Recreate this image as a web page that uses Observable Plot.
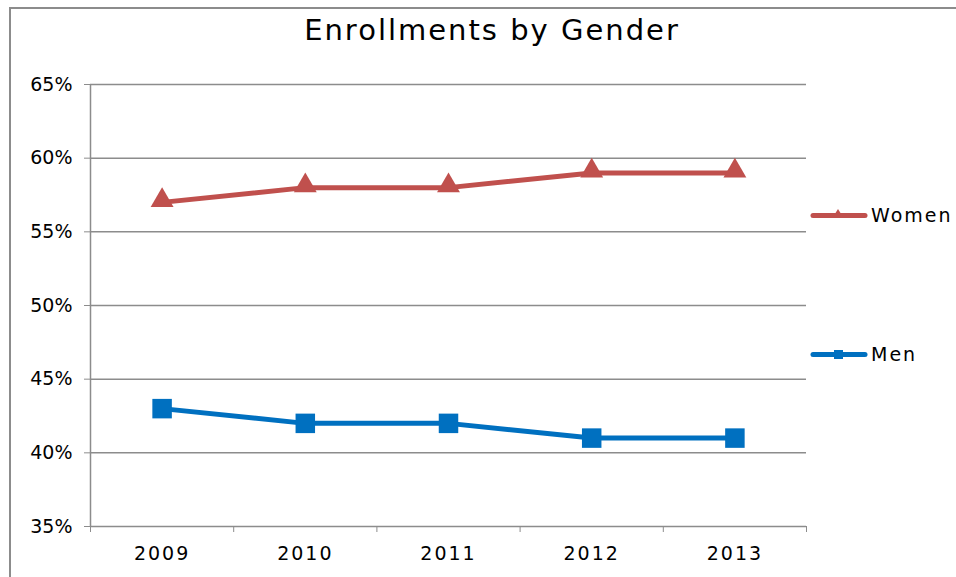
<!DOCTYPE html>
<html><head><meta charset="utf-8">
<script src="https://cdn.jsdelivr.net/npm/d3@7"></script>
<script src="https://cdn.jsdelivr.net/npm/@observablehq/plot@0.6"></script>
<style>
body{margin:0;background:#fff;font-family:"DejaVu Sans",sans-serif;font-weight:400;}
#wrap{position:relative;width:956px;height:577px;overflow:hidden;}
#frame{position:absolute;left:9px;top:7px;width:1000px;height:700px;border:2px solid #8c8c8c;box-sizing:border-box;}
#title{position:absolute;left:0;width:984px;top:13px;text-align:center;font-size:29px;letter-spacing:2px;color:#000;}
.leg{position:absolute;left:810px;font-size:19px;letter-spacing:2px;color:#000;display:flex;align-items:center;}
.leg span{margin-left:3px;}
#chart{position:absolute;left:0;top:0;}
#chart svg g[aria-label="x-axis tick label"]{letter-spacing:2px;}
</style></head>
<body><div id="wrap"><div id="frame"></div><div id="chart"></div><div id="title">Enrollments by Gender</div>
<div class="leg" id="lw" style="top:202px"></div><div class="leg" id="lm" style="top:341px"></div></div>
<script>
const years = [2009, 2010, 2011, 2012, 2013];
const women = [57, 58, 58, 59, 59];
const men = [43, 42, 42, 41, 41];
const yTicks = [35, 40, 45, 50, 55, 60, 65];
const seriesNames = ["Women", "Men"];
const colors = {Women: "#C0504D", Men: "#0070C0"};

const data = [];
years.forEach((y, i) => {
  data.push({year: y, series: "Women", value: women[i]});
  data.push({year: y, series: "Men", value: men[i]});
});
const bounds = years.map(d => d - 0.5).concat([years[years.length - 1] + 0.5]);
const grid = "#8c8c8c";

const plot = Plot.plot({
  width: 956, height: 577,
  marginLeft: 90, marginRight: 150, marginTop: 84, marginBottom: 51,
  style: {fontFamily: "'DejaVu Sans', sans-serif", fontSize: "19px", color: "#000", background: "transparent", overflow: "visible"},
  x: {domain: [bounds[0], bounds[bounds.length - 1]]},
  y: {domain: [35, 65]},
  marks: [
    Plot.gridY(yTicks, {stroke: grid, strokeOpacity: 1, strokeWidth: 1.5}),
    Plot.axisY(yTicks, {tickSize: 6, tickPadding: 12, stroke: grid, tickFormat: d => d + "%", fontSize: 19, label: null}),
    Plot.ruleX([bounds[0]], {stroke: grid, strokeWidth: 1.5}),
    Plot.axisX(bounds, {tickSize: 6, stroke: grid, tickFormat: () => "", label: null}),
    Plot.axisX(years, {tickSize: 0, tickPadding: 20, tickFormat: d => String(d), fontSize: 19, label: null}),
    Plot.line(data, {x: "year", y: "value", z: "series", stroke: d => colors[d.series], strokeWidth: 5}),
    Plot.dot(data.filter(d => d.series === "Women"), {x: "year", y: "value", symbol: "triangle", r: 8.5, fill: colors.Women, dy: -2}),
    Plot.dot(data.filter(d => d.series === "Men"), {x: "year", y: "value", symbol: "square", r: 11, fill: colors.Men})
  ]
});
document.getElementById("chart").appendChild(plot);

function legend(id, name, shape) {
  const c = colors[name];
  const mark = shape === "tri"
    ? `<polygon points="28,7 23,15 33,15" fill="${c}"/>`
    : `<rect x="24" y="9" width="9" height="9" fill="${c}"/>`;
  document.getElementById(id).innerHTML =
    `<svg width="58" height="26"><line x1="3" y1="13.5" x2="55" y2="13.5" stroke="${c}" stroke-width="5" stroke-linecap="round"/>${mark}</svg><span>${name}</span>`;
}
legend("lw", seriesNames[0], "tri");
legend("lm", seriesNames[1], "sq");
</script></body></html>
